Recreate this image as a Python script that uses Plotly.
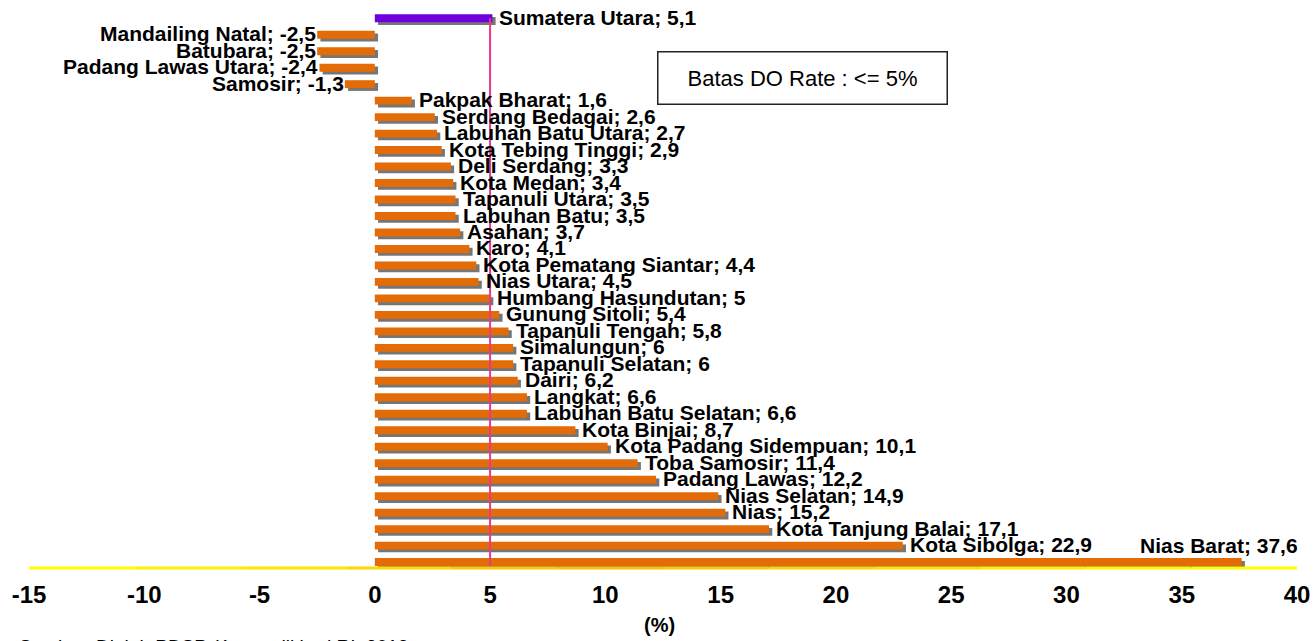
import plotly.graph_objects as go

regions = ["Sumatera Utara", "Mandailing Natal", "Batubara", "Padang Lawas Utara", "Samosir",
           "Pakpak Bharat", "Serdang Bedagai", "Labuhan Batu Utara", "Kota Tebing Tinggi",
           "Deli Serdang", "Kota Medan", "Tapanuli Utara", "Labuhan Batu", "Asahan", "Karo",
           "Kota Pematang Siantar", "Nias Utara", "Humbang Hasundutan", "Gunung Sitoli",
           "Tapanuli Tengah", "Simalungun", "Tapanuli Selatan", "Dairi", "Langkat",
           "Labuhan Batu Selatan", "Kota Binjai", "Kota Padang Sidempuan", "Toba Samosir",
           "Padang Lawas", "Nias Selatan", "Nias", "Kota Tanjung Balai", "Kota Sibolga",
           "Nias Barat"]
do_rate = [5.1, -2.5, -2.5, -2.4, -1.3, 1.6, 2.6, 2.7, 2.9, 3.3, 3.4, 3.5, 3.5, 3.7, 4.1,
           4.4, 4.5, 5, 5.4, 5.8, 6, 6, 6.2, 6.6, 6.6, 8.7, 10.1, 11.4, 12.2, 14.9, 15.2,
           17.1, 22.9, 37.6]
x_ticks = [-15, -10, -5, 0, 5, 10, 15, 20, 25, 30, 35, 40]
limit_value = 5
legend_text = "Batas DO Rate : <= 5%"
source_text = "Sumber: Diolah PDSP, Kemendikbud RI, 2012"

FONT = "Liberation Sans"
LBL = 21
n = len(regions)
ys = list(range(n))
colors = ["#6f00db" if i == 0 else "#e36c09" for i in range(n)]

def fmt(v):
    return ("%g" % v).replace(".", ",")

fig = go.Figure()
# drop shadow
fig.add_trace(go.Bar(
    y=ys, x=do_rate, base=[0.14] * n, orientation="h", width=0.48, offset=-0.24 + 0.17,
    marker=dict(color="rgba(60,60,60,0.7)", line=dict(width=0)), hoverinfo="skip",
    showlegend=False))
fig.add_trace(go.Bar(
    y=ys, x=do_rate, orientation="h", width=0.48, offset=-0.24,
    marker=dict(color=colors, line=dict(width=0)), showlegend=False,
    hovertext=regions))

lblfont = dict(family=FONT, size=LBL, color="black", weight="bold")
annotations = []
for i, (r, v) in enumerate(zip(regions, do_rate)):
    txt = "%s; %s" % (r, fmt(v))
    if i == n - 1:
        annotations.append(dict(x=40, y=i - 1, xref="x", yref="y", text=txt, showarrow=False,
                                xanchor="right", yanchor="middle", xshift=3, yshift=0,
                                font=lblfont))
    elif v < 0:
        annotations.append(dict(x=v, y=i, xref="x", yref="y", text=txt, showarrow=False,
                                xanchor="right", yanchor="middle", xshift=1, yshift=1,
                                font=lblfont))
    else:
        annotations.append(dict(x=v, y=i, xref="x", yref="y", text=txt, showarrow=False,
                                xanchor="left", yanchor="middle", xshift=5, yshift=1,
                                font=lblfont))

annotations.append(dict(x=0.610, y=0.878, xref="paper", yref="paper", text=legend_text,
                        showarrow=False, xanchor="center", yanchor="middle",
                        bordercolor="#222", borderwidth=1.5, borderpad=13,
                        width=262, bgcolor="white",
                        font=dict(family=FONT, size=22, color="black")))
annotations.append(dict(x=0.4976, y=-0.102, xref="paper", yref="paper", text="(%)",
                        showarrow=False, xanchor="center", yanchor="middle",
                        font=dict(family=FONT, size=20, color="black", weight="bold")))
annotations.append(dict(x=0.3005, y=-0.119, xref="paper", yref="paper", text=source_text,
                        showarrow=False, xanchor="right", yanchor="top",
                        font=dict(family=FONT, size=19, color="black")))

shapes = [dict(type="line", xref="x", yref="y", x0=limit_value, x1=limit_value, y0=0,
               y1=33.36, line=dict(color="#e8388a", width=2), layer="above")]
# gradient-like axis line
seg_cols = ["#ffff00", "#fff500", "#ffe800", "#ffd800", "#ffc800", "#ffc000", "#ffc800",
            "#ffd400", "#ffe000", "#ffec00", "#fff600", "#ffff00"]
edges = [-15 + 55 * k / len(seg_cols) for k in range(len(seg_cols) + 1)]
for k, c in enumerate(seg_cols):
    shapes.append(dict(type="line", xref="x", yref="paper", x0=edges[k], x1=edges[k + 1],
                       y0=0, y1=0, line=dict(color=c, width=3), layer="above"))

fig.update_layout(
    width=1314, height=641,
    margin=dict(l=29, r=17, t=10, b=73),
    paper_bgcolor="white", plot_bgcolor="white",
    barmode="overlay", bargap=0.5,
    xaxis=dict(range=[-15, 40], tickvals=x_ticks, ticktext=[str(t) for t in x_ticks],
               showgrid=False, zeroline=False, showline=False, ticks="outside",
               ticklen=5, tickcolor="rgba(0,0,0,0)",
               tickfont=dict(family=FONT, size=24, color="black", weight="bold"),
               automargin=False, fixedrange=True),
    yaxis=dict(range=[33.36, -0.5], showticklabels=False, showgrid=False, zeroline=False,
               showline=False, automargin=False, fixedrange=True),
    annotations=annotations, shapes=shapes, showlegend=False,
)
fig.write_html("out.html", config={"displayModeBar": False},
               post_script="document.body.style.margin='0';document.body.style.overflow='hidden';")
